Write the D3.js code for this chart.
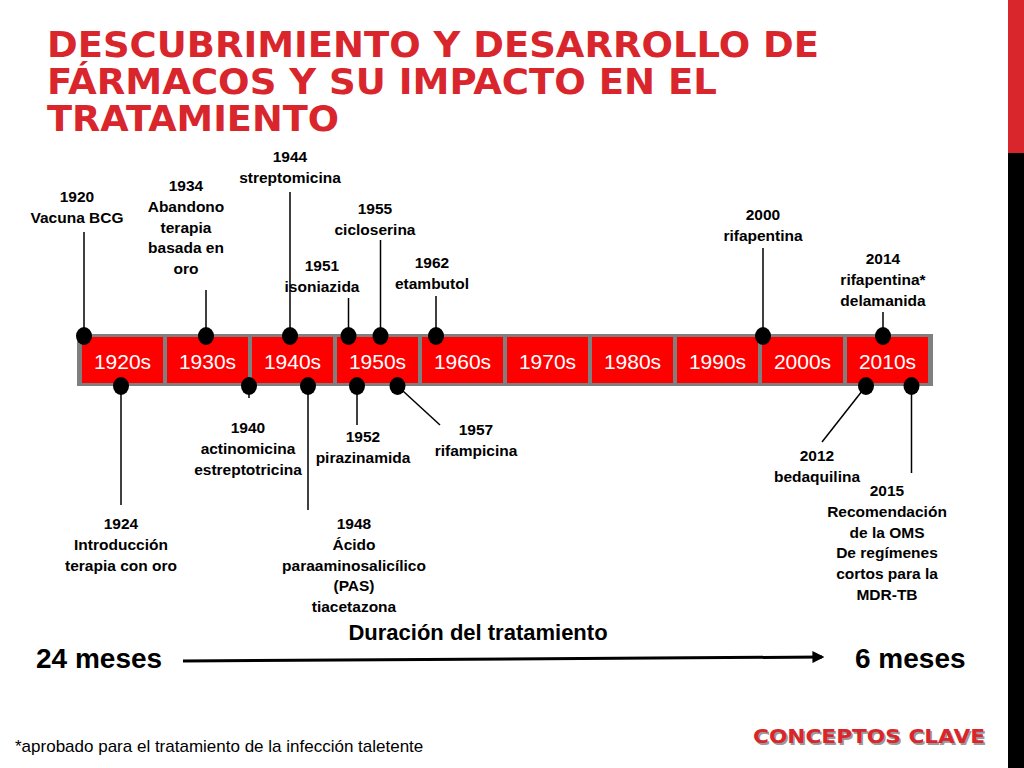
<!DOCTYPE html>
<html><head><meta charset="utf-8">
<script src="https://d3js.org/d3.v7.min.js"></script>
<style>body{margin:0;background:#fff}text{font-family:"Liberation Sans",Arial,sans-serif}</style>
</head><body><svg id="c" width="1024" height="768"></svg>
<script>
// decades on the bar
var decades = [1920, 1930, 1940, 1950, 1960, 1970, 1980, 1990, 2000, 2010];
// events above the bar
var topYears = [1920, 1934, 1944, 1951, 1955, 1962, 2000, 2014];
var topLabels = [
  ["1920", "Vacuna BCG"],
  ["1934", "Abandono", "terapia", "basada en", "oro"],
  ["1944", "streptomicina"],
  ["1951", "isoniazida"],
  ["1955", "cicloserina"],
  ["1962", "etambutol"],
  ["2000", "rifapentina"],
  ["2014", "rifapentina*", "delamanida"]
];
// events below the bar
var botYears = [1924, 1940, 1948, 1952, 1957, 2012, 2015];
var botLabels = [
  ["1924", "Introducción", "terapia con oro"],
  ["1940", "actinomicina", "estreptotricina"],
  ["1948", "Ácido", "paraaminosalicílico", "(PAS)", "tiacetazona"],
  ["1952", "pirazinamida"],
  ["1957", "rifampicina"],
  ["2012", "bedaquilina"],
  ["2015", "Recomendación", "de la OMS", "De regímenes", "cortos para la", "MDR-TB"]
];

// layout: marker nudge, label centre x, first baseline, line end y, line end x (slanted ones)
var topLay = [[0,77,202,232],[3,186,191,290],[2,290,162,192],[1,322,271,298],[-1,375,214,240],[-5,432,268,296],[-1,763,220,248],[0,883,264,312]];
var botLay = [[3,121,529,505],[-5,248,433,398],[-14,354,529,510],[1,363,442,425],[-1,476,435,425,440],[0,817,461,442,822],[20,887,496,473]];

var svg = d3.select("#c");
var red = "#d9262c";

svg.append("rect").attr("x", 1008).attr("y", 0).attr("width", 16).attr("height", 153).attr("fill", red);
svg.append("rect").attr("x", 1008).attr("y", 153).attr("width", 16).attr("height", 615).attr("fill", "#000");

var title = ["DESCUBRIMIENTO Y DESARROLLO DE", "FÁRMACOS Y SU IMPACTO EN EL", "TRATAMIENTO"];
var titleW = [772, 670, 292];
svg.selectAll("text.title").data(title).join("text")
  .attr("x", 47).attr("y", (d, i) => 57 + i * 37)
  .attr("font-size", 36).attr("font-weight", "bold").attr("fill", red)
  .style("font-family", "'DejaVu Sans', sans-serif")
  .attr("textLength", (d, i) => titleW[i]).attr("lengthAdjust", "spacingAndGlyphs")
  .text(d => d);

var x = d3.scaleLinear().domain([1920, 2020]).range([80, 930]);
var barY = 334, barH = 52;

svg.append("rect").attr("x", 77).attr("y", barY).attr("width", 856).attr("height", barH).attr("fill", "#7f7f7f");
svg.selectAll("rect.dec").data(decades).join("rect")
  .attr("x", d => x(d) + 2).attr("y", barY + 3)
  .attr("width", x(1930) - x(1920) - 4).attr("height", barH - 6).attr("fill", "#ff0000");
svg.selectAll("text.dec").data(decades).join("text")
  .attr("x", d => x(d) + (x(1930) - x(1920)) / 2).attr("y", barY + 35)
  .attr("text-anchor", "middle").attr("font-size", 21).attr("fill", "#fff")
  .text(d => d + "s");

function drawEvents(years, labels, lay, my) {
  years.forEach(function (yr, i) {
    var L = lay[i], mx = x(yr) + 4 + L[0];
    var ex = L[4] !== undefined ? L[4] : mx;
    svg.append("line").attr("x1", mx).attr("y1", my).attr("x2", ex).attr("y2", L[3])
      .attr("stroke", "#000").attr("stroke-width", 1.5);
    svg.append("ellipse").attr("cx", mx).attr("cy", my).attr("rx", 8).attr("ry", 9).attr("fill", "#000");
    svg.append("text").attr("text-anchor", "middle").attr("font-size", 15.5).attr("font-weight", "bold")
      .selectAll("tspan").data(labels[i]).join("tspan")
      .attr("x", L[1]).attr("y", (d, j) => L[2] + j * 20.8).text(d => d);
  });
}
drawEvents(topYears, topLabels, topLay, barY + 2);
drawEvents(botYears, botLabels, botLay, barY + barH);

svg.append("text").attr("x", 478).attr("y", 640).attr("text-anchor", "middle")
  .attr("font-size", 22).attr("font-weight", "bold").text("Duración del tratamiento");
svg.append("text").attr("x", 36).attr("y", 668).attr("font-size", 28).attr("font-weight", "bold").text("24 meses");
svg.append("text").attr("x", 855).attr("y", 668).attr("font-size", 28).attr("font-weight", "bold").text("6 meses");
svg.append("defs").append("marker").attr("id", "ah").attr("viewBox", "0 0 10 10")
  .attr("refX", 8).attr("refY", 5).attr("markerWidth", 4).attr("markerHeight", 4).attr("orient", "auto")
  .append("path").attr("d", "M0,0L10,5L0,10z");
svg.append("line").attr("x1", 183).attr("y1", 661).attr("x2", 822).attr("y2", 657)
  .attr("stroke", "#000").attr("stroke-width", 3).attr("marker-end", "url(#ah)");

[["#999", 1.5], [red, 0]].forEach(function (s) {
  svg.append("text").attr("x", 753 + s[1]).attr("y", 743 + s[1]).attr("font-size", 20)
    .attr("font-weight", "bold").attr("fill", s[0]).style("font-family", "'DejaVu Sans', sans-serif")
    .attr("textLength", 232).attr("lengthAdjust", "spacingAndGlyphs").text("CONCEPTOS CLAVE");
});
svg.append("text").attr("x", 15).attr("y", 752).attr("font-size", 17)
  .text("*aprobado para el tratamiento de la infección taletente");
</script></body></html>
